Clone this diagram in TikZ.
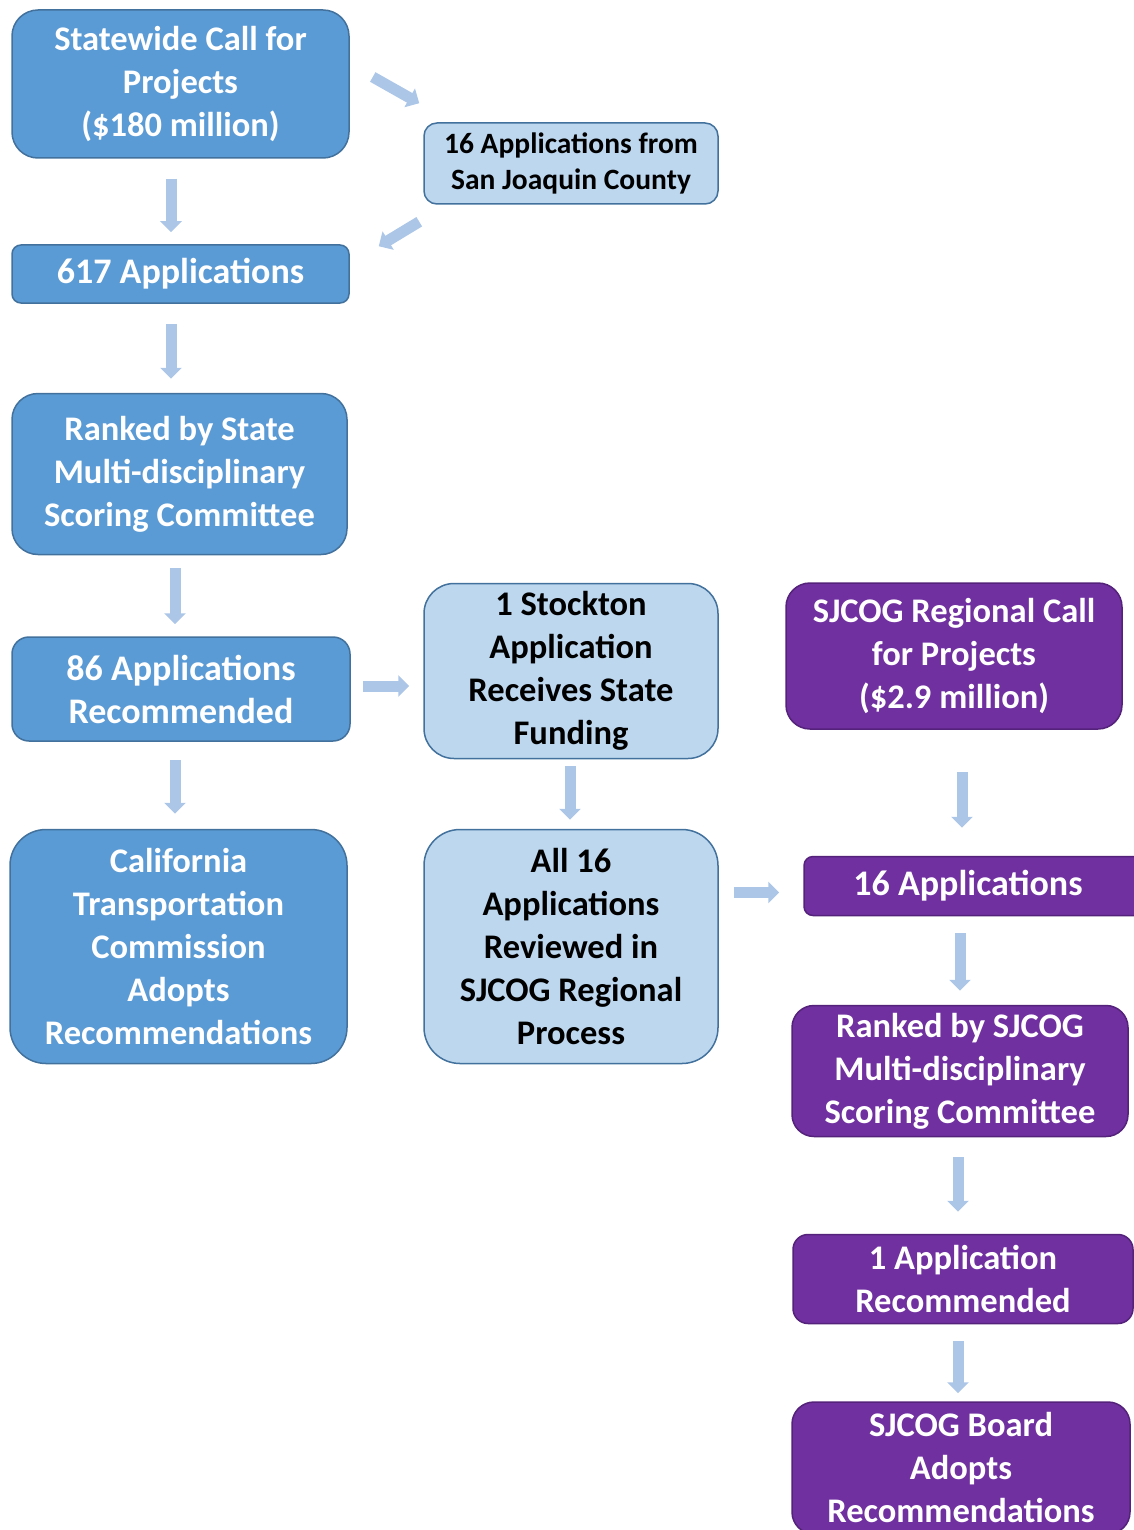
\documentclass[tikz,border=0pt]{standalone}
\usepackage{fontspec}
\setmainfont{Carlito}
\usepackage{tikz}
\usetikzlibrary{arrows.meta,positioning,calc}
\definecolor{StateBlue}{RGB}{91,155,213}
\definecolor{StateEdge}{RGB}{65,113,156}
\definecolor{LocalBlue}{RGB}{189,215,238}
\definecolor{RegionPurple}{RGB}{112,48,160}
\definecolor{RegionEdge}{RGB}{84,34,122}
\definecolor{ArrowBlue}{RGB}{172,198,232}

\begin{document}
\begin{tikzpicture}[x=1pt,y=-1pt,
  box/.style={draw,line width=1.5pt,rounded corners=26pt,align=center,inner sep=0pt,
    font=\fontsize{34.5}{43}\selectfont\bfseries},
  statebox/.style={box,fill=StateBlue,draw=StateEdge,text=white},
  localbox/.style={box,fill=LocalBlue,draw=StateEdge,text=black},
  regionbox/.style={box,fill=RegionPurple,draw=RegionEdge,text=white},
  bigtext/.style={font=\fontsize{36}{43}\selectfont\bfseries},
  flowarrow/.style={ArrowBlue,line width=11pt,-{Triangle[width=21pt,length=11pt]}}]
\useasboundingbox (0,0) rectangle (1133,1530);
% state track
\node[statebox,minimum width=337pt,minimum height=148pt] (state) at (180.5,84) {Statewide Call for\\Projects\\(\$180 million)};
\node[statebox,bigtext,minimum width=337pt,minimum height=58pt,rounded corners=9pt] (apps) at (180.5,274) {617 Applications};
\node[statebox,minimum width=335pt,minimum height=161pt] (rankst) at (179.5,474) {Ranked by State\\Multi-disciplinary\\Scoring Committee};
\node[statebox,bigtext,minimum width=338pt,minimum height=104pt,rounded corners=17pt] (rec) at (181,689) {86 Applications\\Recommended};
\node[statebox,minimum width=337pt,minimum height=234pt,rounded corners=36pt] (ctc) at (178.5,946.5) {California\\Transportation\\Commission\\Adopts\\Recommendations};
% county
\node[localbox,minimum width=294pt,minimum height=81pt,rounded corners=13pt,
  font=\fontsize{29.5}{36}\selectfont\bfseries] (sjapps) at (571,163.5) {16 Applications from\\San Joaquin County};
\node[localbox,minimum width=294pt,minimum height=175pt,rounded corners=30pt] (stockton) at (571,671) {1 Stockton\\Application\\Receives State\\Funding};
\node[localbox,minimum width=294pt,minimum height=234pt,rounded corners=36pt] (all) at (571,946.5) {All 16\\Applications\\Reviewed in\\SJCOG Regional\\Process};
% regional track
\node[regionbox,minimum width=336pt,minimum height=146pt,rounded corners=24pt] (call) at (954,656) {SJCOG Regional Call\\for Projects\\(\$2.9 million)};
\node[regionbox,bigtext,minimum width=340pt,minimum height=59pt,rounded corners=9pt] (sixteen) at (974,886) {\hspace*{-12pt}16 Applications};
\node[regionbox,minimum width=336pt,minimum height=131pt,rounded corners=22pt] (ranksj) at (960,1071) {Ranked by SJCOG\\Multi-disciplinary\\Scoring Committee};
\node[regionbox,minimum width=340pt,minimum height=89pt,rounded corners=15pt] (onerec) at (963,1279) {1 Application\\Recommended};
\node[regionbox,minimum width=338pt,minimum height=132pt,rounded corners=22pt] (board) at (961,1468) {SJCOG Board\\Adopts\\Recommendations};

% arrows
\draw[flowarrow,shorten <=20pt,shorten >=12pt] ([xshift=-9.5pt]state.south) -- ([xshift=-9.5pt]state.south |- apps.north);
\draw[flowarrow,shorten <=20pt,shorten >=14pt] ([xshift=-9.5pt]apps.south) -- ([xshift=-9.5pt]apps.south |- rankst.north);
\draw[flowarrow,shorten <=13pt,shorten >=12pt] ([xshift=-4.5pt]rankst.south) -- ([xshift=-4.5pt]rankst.south |- rec.north);
\draw[flowarrow,shorten <=18pt,shorten >=15pt] ([xshift=-6pt]rec.south) -- ([xshift=-6pt]rec.south |- ctc.north);
\draw[flowarrow] ([shift={(23pt,7pt)}]state.east) -- ([shift={(-4pt,19pt)}]sjapps.north west);
\draw[flowarrow] ([shift={(-4pt,-17pt)}]sjapps.south west) -- ([shift={(29pt,-2pt)}]apps.north east);
\draw[flowarrow,shorten <=12pt,shorten >=14pt] ([yshift=3pt]rec.east) -- ([yshift=3pt]rec.east -| stockton.west);
\draw[flowarrow,shorten <=7pt,shorten >=9pt] ([xshift=-1pt]stockton.south) -- ([xshift=-1pt]stockton.south |- all.north);
\draw[flowarrow,shorten <=15pt,shorten >=24pt] ([yshift=-6.5pt]all.east |- sixteen.west) -- ([yshift=-6.5pt]sixteen.west);
\draw[flowarrow,shorten <=42pt,shorten >=28pt] ([xshift=8pt]call.south) -- ([xshift=8pt]call.south |- sixteen.north);
\draw[flowarrow,shorten <=17pt,shorten >=14pt] (ranksj.north |- sixteen.south) -- (ranksj.north);
\draw[flowarrow,shorten <=20pt,shorten >=22pt] ([xshift=-2pt]ranksj.south) -- ([xshift=-2pt]ranksj.south |- onerec.north);
\draw[flowarrow,shorten <=17pt,shorten >=8pt] ([xshift=-5pt]onerec.south) -- ([xshift=-5pt]onerec.south |- board.north);
\end{tikzpicture}
\end{document}
